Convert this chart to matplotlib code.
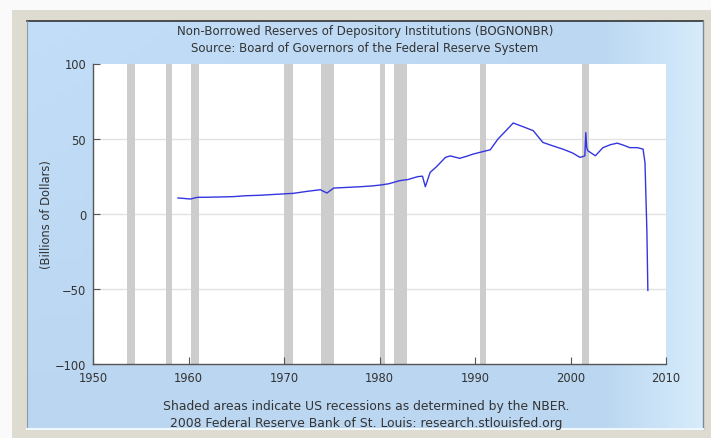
import numpy as np
import matplotlib.pyplot as plt
from matplotlib.patches import Rectangle

# Non-borrowed reserves, billions of dollars
years = [1958.9, 1959.5, 1960.2, 1960.9, 1962.0, 1963.5, 1964.7, 1966.0, 1967.5,
         1968.8, 1969.9, 1971.0, 1972.3, 1973.8, 1974.5, 1975.2, 1976.5, 1978.0,
         1979.2, 1980.1, 1981.0, 1982.1, 1983.0, 1984.0, 1984.5, 1984.8, 1985.3,
         1986.0, 1986.9, 1987.4, 1988.4, 1989.0, 1989.8, 1990.6, 1991.6, 1992.4,
         1993.2, 1994.0, 1995.0, 1996.1, 1997.1, 1998.0, 1999.2, 2000.2, 2001.0,
         2001.5, 2001.6, 2001.7, 2001.8, 2002.6, 2003.4, 2004.2, 2004.9, 2005.6,
         2006.2, 2007.0, 2007.6, 2007.8, 2008.0, 2008.1]
reserves = [10.5, 10.2, 9.8, 10.9, 11.0, 11.2, 11.4, 12.0, 12.3,
            12.8, 13.2, 13.6, 14.8, 16.0, 13.8, 17.1, 17.5, 18.0,
            18.5, 19.1, 20.0, 22.0, 22.8, 24.7, 25.0, 18.0, 27.5,
            31.5, 37.5, 38.5, 36.9, 38.0, 39.7, 41.0, 42.6, 49.7,
            55.0, 60.4, 58.0, 55.3, 47.5, 45.5, 43.0, 40.5, 37.5,
            38.5, 54.0, 44.0, 42.0, 38.6, 44.0, 46.0, 47.0, 45.5,
            44.0, 44.0, 43.0, 34.0, -12.0, -51.0]

# NBER recessions (start, end)
recessions = [(1953.55, 1954.4), (1957.6, 1958.3), (1960.3, 1961.1),
              (1969.95, 1970.9), (1973.85, 1975.2), (1980.0, 1980.55),
              (1981.55, 1982.9), (1990.55, 1991.2), (2001.2, 2001.9)]

xticks = [1950, 1960, 1970, 1980, 1990, 2000, 2010]
yticks = [-100, -50, 0, 50, 100]

title = ("Non-Borrowed Reserves of Depository Institutions (BOGNONBR)\n"
         "Source: Board of Governors of the Federal Reserve System")
footer = ("Shaded areas indicate US recessions as determined by the NBER.\n"
          "2008 Federal Reserve Bank of St. Louis: research.stlouisfed.org")

W, H = 711, 439
fig = plt.figure(figsize=(W / 100, H / 100), dpi=100, facecolor="#fafafa")

# background frame + blue panel
bg = fig.add_axes([0, 0, 1, 1], zorder=0)
bg.set_xlim(0, W)
bg.set_ylim(H, 0)
bg.axis("off")
bg.add_patch(Rectangle((12, 11), W - 12, H - 11, color="#dedbd1", lw=0))
gx = np.linspace(0, 1, 200)
gy = np.linspace(0, 1, 50)
GX, GY = np.meshgrid(gx, gy)
left_c = np.array([186, 214, 240]) / 255
right_c = np.array([214, 236, 252]) / 255
t = np.clip((GX - 0.85) / 0.15, 0, 1)[..., None]
img = left_c * (1 - t) + right_c * t
img = img + 0.03 * (1 - GY[..., None]) * (1 - GX[..., None])
bg.imshow(np.clip(img, 0, 1), extent=(27, 703, 430, 22), aspect="auto", zorder=1)
bg.plot([27, 703], [22, 22], color="#333333", lw=1.2, zorder=2)
bg.plot([27, 27], [22, 430], color="#8a9aa8", lw=0.8, zorder=2)
bg.plot([703, 703], [22, 430], color="#7d8a96", lw=1.0, zorder=2)
bg.plot([27, 703], [430, 430], color="#f0f8ff", lw=1.5, zorder=2)

txt = "#333333"
bg.text(365, 40, title, ha="center", va="center", fontsize=8.5,
        color=txt, linespacing=1.45, zorder=3)
bg.text(366, 415, footer, ha="center", va="center", fontsize=8.9,
        color=txt, linespacing=1.4, zorder=3)

# plot area
ax = fig.add_axes([93 / W, 1 - 365 / H, 573 / W, 300.5 / H], zorder=2)
ax.set_facecolor("white")
for s, e in recessions:
    ax.axvspan(s, e, color="#cdcdcd", lw=0, zorder=1)
for v in [-50, 0, 50]:
    ax.axhline(v, color="#e2e2e2", lw=1, zorder=0.5)
ax.plot(years, reserves, color="#3535e0", lw=1.0, zorder=3)

ax.set_xlim(1950, 2010)
ax.set_ylim(-100, 100)
ax.set_xticks(xticks)
ax.set_yticks(yticks)
ax.tick_params(direction="in", length=5, width=0.8, colors="#555555",
               labelcolor=txt, labelsize=8.3, pad=5)
for side in ["top", "right"]:
    ax.spines[side].set_visible(False)
for side in ["left", "bottom"]:
    ax.spines[side].set_color("#555555")
    ax.spines[side].set_linewidth(1.0)
ax.set_ylabel("(Billions of Dollars)", fontsize=8.3, color=txt, labelpad=1)

fig.savefig("out.png", dpi=100, facecolor=fig.get_facecolor())
